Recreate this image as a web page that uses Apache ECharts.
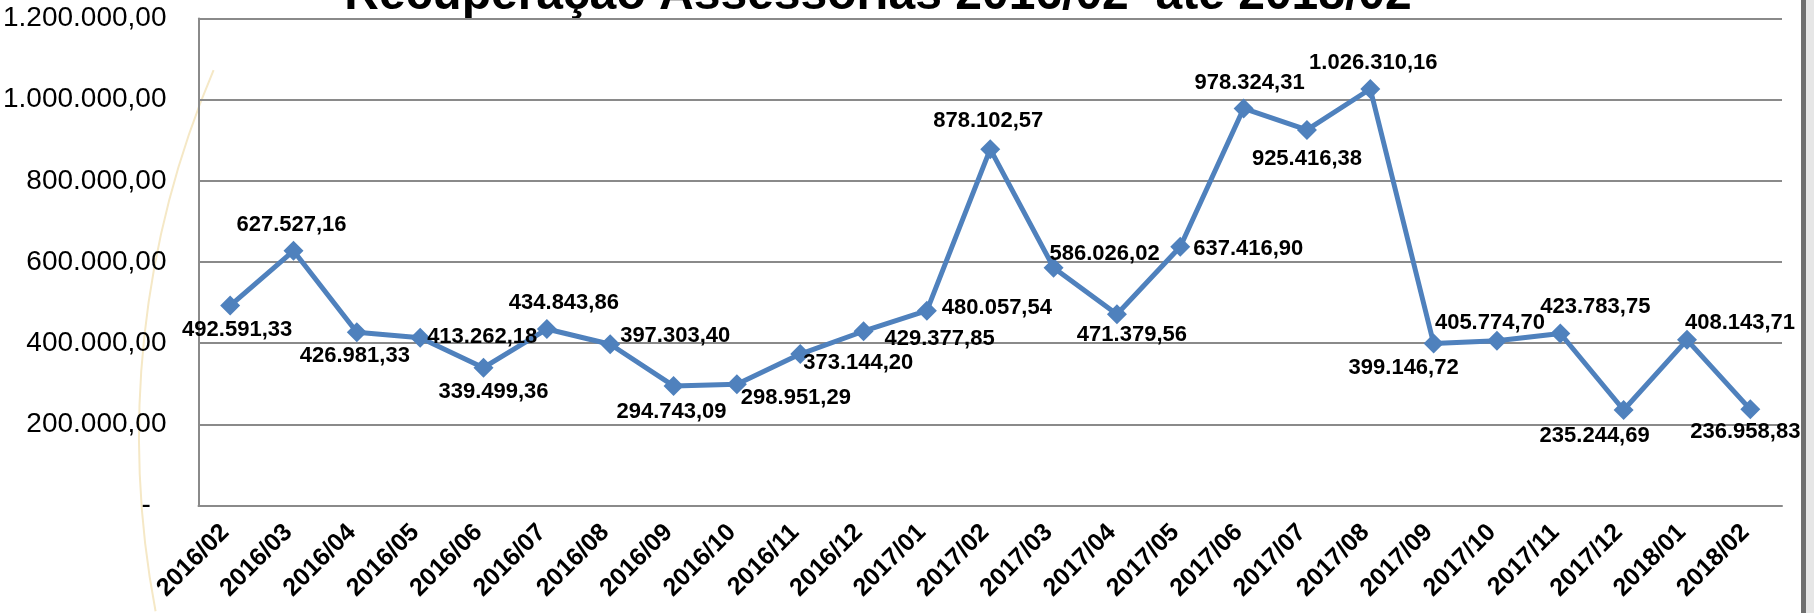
<!DOCTYPE html>
<html>
<head>
<meta charset="utf-8">
<title>Recuperação Assessorias</title>
<script src="https://cdn.jsdelivr.net/npm/echarts@6/dist/echarts.min.js"></script>
<style>
    html, body {
        margin: 0;
        padding: 0;
        background: #fff;
    }

    #chart {
        width: 1814px;
        height: 613px;
    }
</style>
</head>
<body>
<div id="chart"></div>
<script>
// meses
const months = ['2016/02', '2016/03', '2016/04', '2016/05', '2016/06', '2016/07', '2016/08',
    '2016/09', '2016/10', '2016/11', '2016/12', '2017/01', '2017/02', '2017/03', '2017/04',
    '2017/05', '2017/06', '2017/07', '2017/08', '2017/09', '2017/10', '2017/11', '2017/12',
    '2018/01', '2018/02'];

// valores recuperados
const values = [492591.33, 627527.16, 426981.33, 413262.18, 339499.36, 434843.86, 397303.40,
    294743.09, 298951.29, 373144.20, 429377.85, 480057.54, 878102.57, 586026.02, 471379.56,
    637416.90, 978324.31, 925416.38, 1026310.16, 399146.72, 405774.70, 423783.75, 235244.69,
    408143.71, 236958.83];

const yTicks = [0, 200000, 400000, 600000, 800000, 1000000, 1200000];

// deslocamento de cada rótulo em relação ao ponto (px)
const labelOffsets = [[7, 24], [-2, -26], [-2, 24], [62, -1], [10, 24], [17, -26], [65, -8],
    [-2, 26], [59, 14], [58, 9], [76, 8], [70, -3], [-2, -28], [51, -14], [15, 21],
    [68, 2], [6, -26], [0, 29], [3, -26], [-30, 24], [-7, -18], [35, -27], [-29, 26],
    [53, -17], [-5, 23]];

// formato pt-BR: 1.234.567,89
function fmt(v) {
    const parts = v.toFixed(2).split('.');
    const int = parts[0].replace(/\B(?=(\d{3})+(?!\d))/g, '.');
    return int + ',' + parts[1];
}

const chart = echarts.init(document.getElementById('chart'));

chart.setOption({
    animation: false,
    backgroundColor: '#fff',
    grid: {
        left: 197,
        right: 32,
        top: 18.5,
        bottom: 107.5
    },
    graphic: [
        {
            // arco decorativo do fundo
            type: 'arc',
            z: -10,
            silent: true,
            shape: { cx: 1074, cy: 436, r: 935, startAngle: Math.PI * 0.94, endAngle: Math.PI * 1.128 },
            style: { stroke: '#f5e8c6', lineWidth: 2, fill: null }
        },
        {
            type: 'rect',
            silent: true,
            shape: { x: 1801, y: 0, width: 5, height: 613 },
            style: { fill: '#6f6f6f' }
        },
        {
            type: 'rect',
            silent: true,
            shape: { x: 1806, y: 0, width: 8, height: 613 },
            style: { fill: '#e6e6e6' }
        },
        {
            type: 'text',
            x: 878,
            y: -4,
            style: {
                text: 'Recuperação Assessorias 2016/02  até 2018/02',
                fill: '#000',
                font: 'bold 48px "Liberation Sans"',
                textAlign: 'center',
                textVerticalAlign: 'middle'
            }
        }
    ],
    xAxis: {
        type: 'category',
        data: months,
        boundaryGap: true,
        axisLine: { lineStyle: { color: '#8a8a8a', width: 2 } },
        axisTick: { show: false },
        axisLabel: {
            interval: 0,
            rotate: 45,
            margin: 18,
            padding: [0, 7, 0, 0],
            color: '#000',
            fontFamily: 'Liberation Sans',
            fontWeight: 'bold',
            fontSize: 25
        }
    },
    yAxis: {
        type: 'value',
        min: yTicks[0],
        max: yTicks[yTicks.length - 1],
        interval: yTicks[1] - yTicks[0],
        axisLine: { show: true, lineStyle: { color: '#8a8a8a', width: 2 } },
        axisTick: { show: false },
        splitLine: { lineStyle: { color: '#8a8a8a', width: 2 } },
        axisLabel: {
            margin: 32,
            color: '#000',
            fontFamily: 'Liberation Sans',
            fontSize: 28,
            formatter: (v) => v === 0 ? '-  ' : fmt(v)
        }
    },
    series: [
        {
            type: 'line',
            data: values.map((v, i) => ({
                value: v,
                label: { offset: labelOffsets[i] }
            })),
            symbol: 'diamond',
            symbolSize: 20,
            lineStyle: { color: '#4f81bd', width: 5 },
            itemStyle: { color: '#4f81bd' },
            label: {
                show: true,
                position: 'inside',
                color: '#000',
                fontFamily: 'Liberation Sans',
                fontWeight: 'bold',
                fontSize: 22,
                formatter: (p) => fmt(p.value)
            }
        }
    ]
});
</script>
</body>
</html>
